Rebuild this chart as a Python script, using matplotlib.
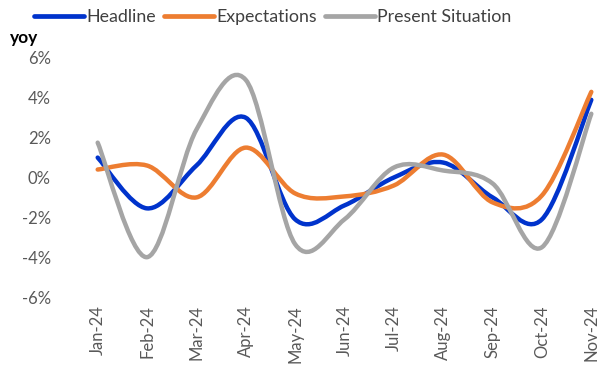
#!/usr/bin/env python3

import matplotlib
matplotlib.use('Agg')
import matplotlib.pyplot as plt
from matplotlib.path import Path
from matplotlib.patches import PathPatch
from matplotlib.lines import Line2D
from matplotlib.ticker import FuncFormatter

months = ['Jan-24', 'Feb-24', 'Mar-24', 'Apr-24', 'May-24', 'Jun-24',
          'Jul-24', 'Aug-24', 'Sep-24', 'Oct-24', 'Nov-24']

headline = [1.0, -1.55, 0.6, 3.0, -2.1, -1.4, 0.0, 0.75, -1.0, -2.1, 3.9]
expectations = [0.4, 0.6, -1.0, 1.5, -0.8, -0.95, -0.4, 1.15, -1.25, -0.9, 4.3]
present = [1.75, -4.0, 2.4, 4.9, -3.35, -2.1, 0.5, 0.35, -0.3, -3.5, 3.2]

series_names = ['Headline', 'Expectations', 'Present Situation']
colors = ['#0033CC', '#ED7D31', '#A5A5A5']


def smooth_path(xs, ys, k=1/6):
    # cubic bezier through every point, catmull-rom style control points
    verts = [(xs[0], ys[0])]
    codes = [Path.MOVETO]
    n = len(xs)
    for i in range(n - 1):
        x0, y0 = xs[max(i - 1, 0)], ys[max(i - 1, 0)]
        x1, y1 = xs[i], ys[i]
        x2, y2 = xs[i + 1], ys[i + 1]
        x3, y3 = xs[min(i + 2, n - 1)], ys[min(i + 2, n - 1)]
        c1 = (x1 + (x2 - x0) * k, y1 + (y2 - y0) * k)
        c2 = (x2 - (x3 - x1) * k, y2 - (y3 - y1) * k)
        verts += [c1, c2, (x2, y2)]
        codes += [Path.CURVE4] * 3
    return Path(verts, codes)


def main():
    plt.rcParams['font.family'] = ['Lato', 'DejaVu Sans']

    fig = plt.figure(figsize=(6.1, 3.66), dpi=100)
    ax = fig.add_axes([73 / 610, 69 / 366, 543 / 610, 239 / 366])

    xs = list(range(len(months)))
    for ys, color in zip([headline, expectations, present], colors):
        patch = PathPatch(smooth_path(xs, ys), facecolor='none', edgecolor=color,
                          linewidth=3.2, capstyle='round', joinstyle='round')
        ax.add_patch(patch)

    ax.set_xlim(-0.5, len(months) - 0.5)
    ax.set_ylim(-6, 6)
    ax.set_yticks([-6, -4, -2, 0, 2, 4, 6])
    ax.yaxis.set_major_formatter(FuncFormatter(lambda v, p: '%d%%' % v))
    ax.set_xticks(xs)
    ax.set_xticklabels(months, rotation=90)

    for spine in ax.spines.values():
        spine.set_visible(False)
    ax.tick_params(axis='both', length=0, colors='#595959', labelsize=12)
    ax.tick_params(axis='y', pad=16)
    ax.tick_params(axis='x', pad=6)

    fig.text(10 / 610, 1 - 38 / 366, 'yoy', fontsize=12.5, fontweight='bold',
             color='#000000', va='center', ha='left')

    handles = [Line2D([0], [0], color=c, linewidth=3.4, solid_capstyle='round')
               for c in colors]
    fig.legend(handles, series_names, loc='center left', ncol=3,
               bbox_to_anchor=(25 / 610, 1 - 17 / 366), frameon=False,
               fontsize=12.8, handlelength=2.8, handletextpad=0.15,
               columnspacing=0.45, labelcolor='#404040', borderpad=0)

    fig.savefig('out.png', dpi=100)


if __name__ == '__main__':
    main()
